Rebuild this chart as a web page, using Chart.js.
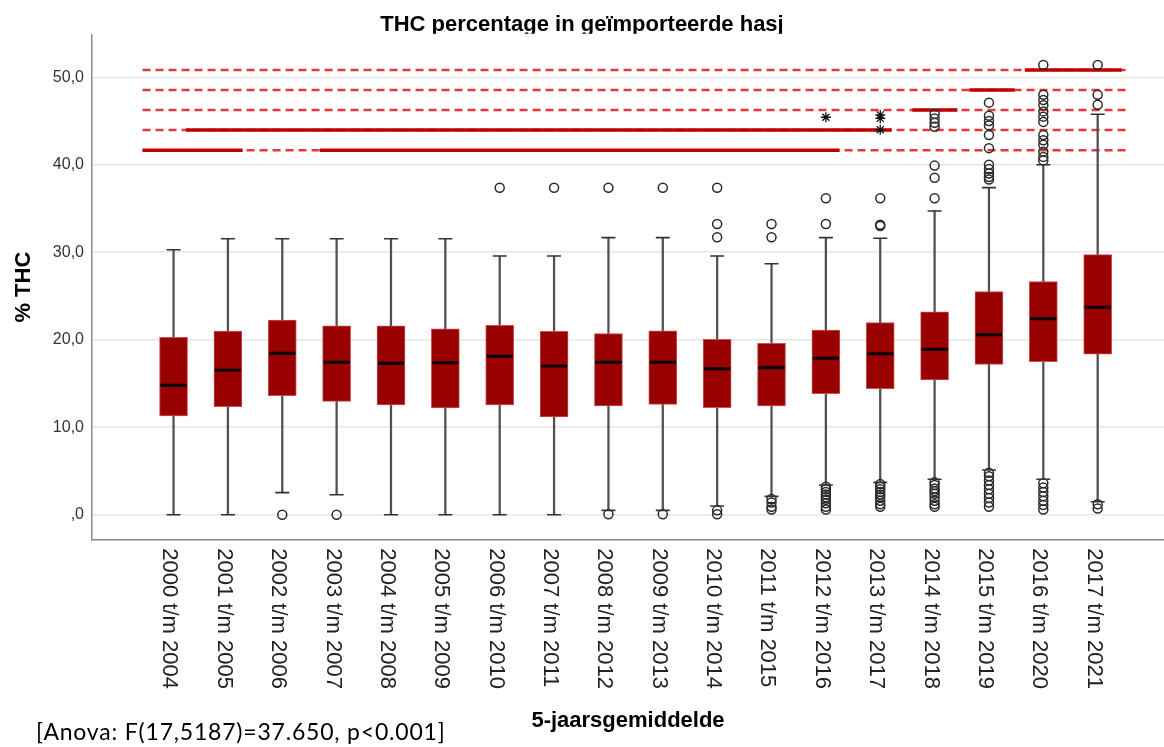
<!DOCTYPE html>
<html><head><meta charset="utf-8">
<script src="https://cdn.jsdelivr.net/npm/chart.js@4.4.1/dist/chart.umd.min.js"></script>
<style>
html,body{margin:0;padding:0;background:#fff;}
#wrap{position:relative;width:1164px;height:747px;overflow:hidden;}
#anova{position:absolute;left:36px;top:720px;font-family:Lato,'Open Sans',sans-serif;font-size:23px;letter-spacing:0.8px;color:#000;white-space:nowrap;line-height:23px;}
</style></head><body>
<div id="wrap"><canvas id="c" width="1164" height="747"></canvas><div id="anova">[Anova: F(17,5187)=37.650, p&lt;0.001]</div></div>
<script>
const categories = ['2000 t/m 2004','2001 t/m 2005','2002 t/m 2006','2003 t/m 2007','2004 t/m 2008','2005 t/m 2009',
  '2006 t/m 2010','2007 t/m 2011','2008 t/m 2012','2009 t/m 2013','2010 t/m 2014','2011 t/m 2015',
  '2012 t/m 2016','2013 t/m 2017','2014 t/m 2018','2015 t/m 2019','2016 t/m 2020','2017 t/m 2021'];
const whiskerLow  = [0, 0, 2.52, 2.29, 0, 0, 0, 0, 0.5, 0.5, 1.0, 2.1, 3.4, 3.7, 4.05, 5.11, 4.05, 1.49];
const q1          = [11.28, 12.35, 13.6, 12.96, 12.54, 12.2, 12.54, 11.17, 12.43, 12.62, 12.23, 12.43, 13.83, 14.4, 15.4, 17.19, 17.49, 18.34];
const median      = [14.79, 16.5, 18.45, 17.42, 17.3, 17.38, 18.1, 17.0, 17.42, 17.42, 16.69, 16.8, 17.88, 18.4, 18.9, 20.58, 22.41, 23.71];
const q3          = [20.28, 21.0, 22.26, 21.6, 21.6, 21.26, 21.65, 20.96, 20.69, 21.03, 20.05, 19.59, 21.11, 21.95, 23.2, 25.49, 26.64, 29.72];
const whiskerHigh = [30.29, 31.55, 31.55, 31.55, 31.55, 31.55, 29.57, 29.57, 31.67, 31.67, 29.57, 28.69, 31.67, 31.6, 34.72, 37.38, 40.0, 45.77];
const outliersHigh = [[],[],[],[],[],[],[37.38],[37.38],[37.38],[37.38],[37.38,33.23,31.71],[33.23,31.71],
  [36.17,33.23],[36.17,33.15,33.0],[45.8,45.3,44.8,44.35,39.9,38.52,36.17],
  [47.1,45.6,45.0,44.5,43.4,41.9,40.0,39.5,39.0,38.6,38.3],
  [51.4,48.0,47.4,46.8,46.1,45.5,44.9,43.4,42.8,42.3,41.5,40.9,40.5],[51.4,48.0,46.85]];
const outliersLow = [[],[],[0.0],[0.0],[],[],[],[],[0.05],[0.05],[0.5,0.05],[1.8,1.4,0.9,0.6],
  [3.2,2.9,2.6,2.3,2.0,1.7,1.3,0.9,0.6],[3.5,3.2,2.9,2.6,2.3,2.0,1.6,1.2,0.9],
  [3.7,3.4,3.0,2.7,2.4,2.0,1.6,1.2,0.9],[4.8,4.4,3.9,3.4,2.9,2.4,1.9,1.4,0.9],
  [3.6,3.1,2.6,2.1,1.6,1.1,0.6],[1.2,0.7]];
const extremes = [[],[],[],[],[],[],[],[],[],[],[],[],[45.43],[45.7,45.3,44.0],[],[],[],[]];
const yTickValues = [0, 10, 20, 30, 40, 50];
const yTickLabels = [',0', '10,0', '20,0', '30,0', '40,0', '50,0'];
// homogeneous subsets (levels and category-index spans)
const subsetLevels = [50.84, 48.55, 46.27, 43.98, 41.66];
const subsetRange = [-0.57, 17.57];
const subsetSegments = [[[15.66,17.44]], [[14.64,15.47]], [[13.59,14.42]], [[0.23,13.21]], [[-0.57,1.27],[2.69,12.25]]];

const idx = categories.map((_, i) => i);
const datasets = [];
datasets.push({type:'line', data: idx.map(i=>({x:i,y:median[i]})), showLine:false, pointStyle:'line',
  pointRadius:13, pointBorderWidth:3, pointBorderColor:'#000', order:0});
datasets.push({type:'line', data: idx.flatMap(i=>[{x:i,y:whiskerLow[i]},{x:i,y:whiskerHigh[i]}]), showLine:false,
  pointStyle:'line', pointRadius:7, pointBorderWidth:1.6, pointBorderColor:'#333', order:1});
datasets.push({type:'bar', data: idx.map(i=>({x:i,y:[q1[i],q3[i]]})), backgroundColor:'#990000',
  borderColor:'#c85050', borderWidth:1, borderSkipped:false, barThickness:28, grouped:false, order:2});
datasets.push({type:'bar', data: idx.map(i=>({x:i,y:[whiskerLow[i],whiskerHigh[i]]})), backgroundColor:'#505050',
  barThickness:1.6, grouped:false, order:3});
datasets.push({type:'line', data: idx.flatMap(i=>outliersHigh[i].concat(outliersLow[i]).map(v=>({x:i,y:v}))), showLine:false,
  pointStyle:'circle', pointRadius:4.5, pointBorderWidth:1.5, pointBorderColor:'#2a2a2a', pointBackgroundColor:'rgba(255,255,255,0)', order:1});
datasets.push({type:'line', data: idx.flatMap(i=>extremes[i].map(v=>({x:i,y:v}))), showLine:false,
  pointStyle:'star', pointRadius:5, pointBorderWidth:1.3, pointBorderColor:'#111', order:1});
subsetLevels.forEach(lv => datasets.push({type:'line', data:[{x:subsetRange[0],y:lv},{x:subsetRange[1],y:lv}],
  borderColor:'#e8363c', borderWidth:2.5, borderDash:[8,5], pointRadius:0, order:6}));
subsetSegments.forEach((segs,k)=>segs.forEach(s=>datasets.push({type:'line',
  data:[{x:s[0],y:subsetLevels[k]},{x:s[1],y:subsetLevels[k]}], borderColor:'#c00000', borderWidth:3.5, pointRadius:0, order:5})));

const xLabelPlugin = {id:'xlabels', afterDraw(chart){
  const {ctx, chartArea, scales:{x}} = chart;
  ctx.save();
  ctx.font = '22px "Liberation Sans", Arial, sans-serif';
  ctx.fillStyle = '#222'; ctx.textAlign = 'left'; ctx.textBaseline = 'middle';
  categories.forEach((c,i)=>{
    const px = x.getPixelForValue(i) - 4;
    ctx.save(); ctx.translate(px, chartArea.bottom + 9); ctx.rotate(Math.PI/2); ctx.fillText(c, 0, 0); ctx.restore();
  });
  // the reference title is cropped just below its baseline
  ctx.fillStyle = '#fff';
  ctx.fillRect(360, 33.8, 460, 4.5);
  ctx.restore();
}};

new Chart(document.getElementById('c'), {
  type:'bar',
  data:{datasets},
  options:{
    responsive:false, animation:false, devicePixelRatio:1,
    layout:{autoPadding:false, padding:{left:0, right:0, top:0, bottom:0}},
    plugins:{
      legend:{display:false}, tooltip:{enabled:false},
      title:{display:true, text:'THC percentage in geïmporteerde hasj', color:'#000',
        font:{family:'"Liberation Sans", Arial, sans-serif', size:22, weight:'bold', lineHeight:0.8},
        padding:{top:16, bottom:1.4}}
    },
    scales:{
      x:{type:'linear', offset:false, min:-1.5, max:18.22, grid:{display:false, drawTicks:false, offset:false},
        border:{display:true, color:'#8a8a8a', width:1.5}, ticks:{display:false},
        title:{display:true, text:'5-jaarsgemiddelde', color:'#000',
          font:{family:'"Liberation Sans", Arial, sans-serif', size:22, weight:'bold'}, padding:{top:0, bottom:13}},
        afterFit:s=>{s.height = 207.7; s.paddingLeft = 0; s.paddingRight = 0;}},
      y:{type:'linear', min:-2.81, max:54.83,
        afterBuildTicks:s=>{s.ticks = yTickValues.map(v=>({value:v}));},
        ticks:{callback:v=>yTickLabels[yTickValues.indexOf(v)], color:'#333', padding:8,
          font:{family:'"Liberation Sans", Arial, sans-serif', size:16}},
        grid:{color:'#e6e6e6', lineWidth:1.5, drawTicks:false},
        border:{display:true, color:'#8a8a8a', width:1.5},
        title:{display:true, text:'% THC', color:'#000',
          font:{family:'"Liberation Sans", Arial, sans-serif', size:22, weight:'bold'}, padding:{top:11, bottom:0}},
        afterFit:s=>{s.width = 92;}}
    }
  },
  plugins:[xLabelPlugin]
});
</script>
</body></html>
